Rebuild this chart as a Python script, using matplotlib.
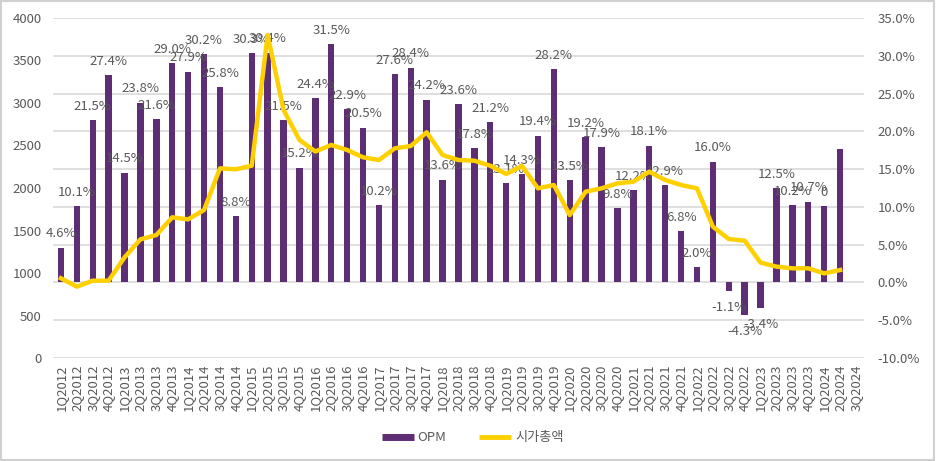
import matplotlib
matplotlib.use("Agg")
import matplotlib.pyplot as plt
from matplotlib.lines import Line2D
from matplotlib.patches import Rectangle

plt.rcParams['font.family'] = ['Noto Sans CJK KR', 'DejaVu Sans']

quarters = ["1Q2012", "2Q2012", "3Q2012", "4Q2012",
            "1Q2013", "2Q2013", "3Q2013", "4Q2013",
            "1Q2014", "2Q2014", "3Q2014", "4Q2014",
            "1Q2015", "2Q2015", "3Q2015", "4Q2015",
            "1Q2016", "2Q2016", "3Q2016", "4Q2016",
            "1Q2017", "2Q2017", "3Q2017", "4Q2017",
            "1Q2018", "2Q2018", "3Q2018", "4Q2018",
            "1Q2019", "2Q2019", "3Q2019", "4Q2019",
            "1Q2020", "2Q2020", "3Q2020", "4Q2020",
            "1Q2021", "2Q2021", "3Q2021", "4Q2021",
            "1Q2022", "2Q2022", "3Q2022", "4Q2022",
            "1Q2023", "2Q2023", "3Q2023", "4Q2023",
            "1Q2024", "2Q2024", "3Q2024"]

# OPM (%), one per quarter up to 2Q2024
opm = [4.6, 10.1, 21.5, 27.4,
       14.5, 23.8, 21.6, 29.0,
       27.9, 30.2, 25.8, 8.8,
       30.3, 30.4, 21.5, 15.2,
       24.4, 31.5, 22.9, 20.5,
       10.2, 27.6, 28.4, 24.2,
       13.6, 23.6, 17.8, 21.2,
       13.1, 14.3, 19.4, 28.2,
       13.5, 19.2, 17.9, 9.8,
       12.2, 18.1, 12.9, 6.8,
       2.0, 16.0, -1.1, -4.3,
       -3.4, 12.5, 10.2, 10.7,
       10.1, 17.6]

opm_labels = ["4.6%", "10.1%", "21.5%", "27.4%",
              "14.5%", "23.8%", "21.6%", "29.0%",
              "27.9%", "30.2%", "25.8%", "8.8%",
              "30.3%", "30.4%", "21.5%", "15.2%",
              "24.4%", "31.5%", "22.9%", "20.5%",
              "10.2%", "27.6%", "28.4%", "24.2%",
              "13.6%", "23.6%", "17.8%", "21.2%",
              "13.1%", "14.3%", "19.4%", "28.2%",
              "13.5%", "19.2%", "17.9%", "9.8%",
              "12.2%", "18.1%", "12.9%", "6.8%",
              "2.0%", "16.0%", "-1.1%", "-4.3%",
              "-3.4%", "12.5%", "10.2%", "10.7%",
              "0", ""]

# 시가총액 (market cap), left axis
mcap = [938, 839, 910, 910,
        1184, 1396, 1447, 1655,
        1631, 1741, 2231, 2220,
        2262, 3800, 2918, 2565,
        2430, 2506, 2447, 2361,
        2329, 2467, 2494, 2655,
        2388, 2329, 2321, 2262,
        2165, 2259, 1996, 2035,
        1682, 1957, 1996, 2055,
        2074, 2192, 2094, 2035,
        1996, 1545, 1400, 1380,
        1122, 1075, 1055, 1055,
        996, 1035]

left_ticks = [0, 500, 1000, 1500, 2000, 2500, 3000, 3500, 4000]
right_ticks = [-10, -5, 0, 5, 10, 15, 20, 25, 30, 35]

PURPLE = '#5D2E73'
GOLD = '#FFD000'
GRAY = '#595959'
GRID = '#D9D9D9'
FS = 9.5

fig = plt.figure(figsize=(9.36, 4.61), dpi=100)
fig.patches.append(Rectangle((0.001, 0.002), 0.997, 0.995, transform=fig.transFigure,
                             fill=False, edgecolor='#D0D0D0', lw=1.5))

ax = fig.add_axes([0.0566, 0.2234, 0.8664, 0.7376])
ax2 = ax.twinx()
x = list(range(len(quarters)))

# bars on the percent axis (shown on the right)
ax.bar(x[:len(opm)], opm, width=0.40, color=PURPLE, zorder=2)
ax.set_ylim(-10, 35)
ax.set_xlim(-0.5, len(quarters) - 0.5)
ax.set_yticks(right_ticks)
ax.set_yticklabels([f"{t:.1f}%" for t in right_ticks])
ax.yaxis.grid(True, color=GRID, lw=1.2, zorder=0)
ax.set_axisbelow(True)

for xi, v, lab in zip(x, opm, opm_labels):
    if not lab:
        continue
    off = 10 if v >= 0 else -12
    ax.annotate(lab, (xi, v), xytext=(0, off), textcoords='offset points',
                ha='center', va='center', fontsize=FS, color=GRAY, zorder=5)

ax.set_xticks(x)
ax.set_xticklabels(quarters, rotation=90, fontsize=FS, color=GRAY)
ax.tick_params(axis='x', length=0, pad=5)
for s in ax.spines.values():
    s.set_visible(False)

ax2.plot(x[:len(mcap)], mcap, color=GOLD, lw=3.2, solid_joinstyle='round', zorder=3)
ax2.set_ylim(0, 4000)
ax2.set_yticks(left_ticks)
ax2.set_yticklabels([str(t) for t in left_ticks])
for s in ax2.spines.values():
    s.set_visible(False)

ax.yaxis.tick_right()
ax.tick_params(axis='y', which='both', left=False, labelleft=False, right=False,
               labelright=True, length=0, labelsize=FS, labelcolor=GRAY, pad=10)
ax2.yaxis.tick_left()
ax2.tick_params(axis='y', which='both', right=False, labelright=False, left=False,
                labelleft=True, length=0, labelsize=FS, labelcolor=GRAY, pad=8)

handles = [Line2D([0], [0], color=PURPLE, lw=5, solid_capstyle='butt'),
           Line2D([0], [0], color=GOLD, lw=3.5, solid_capstyle='butt')]
fig.legend(handles, ['OPM', '시가총액'], loc='center', bbox_to_anchor=(0.505, 0.05),
           ncol=2, frameon=False, fontsize=FS, labelcolor=GRAY,
           handlelength=2.4, handletextpad=0.3, columnspacing=2.5)

fig.savefig('out.png', dpi=100)
